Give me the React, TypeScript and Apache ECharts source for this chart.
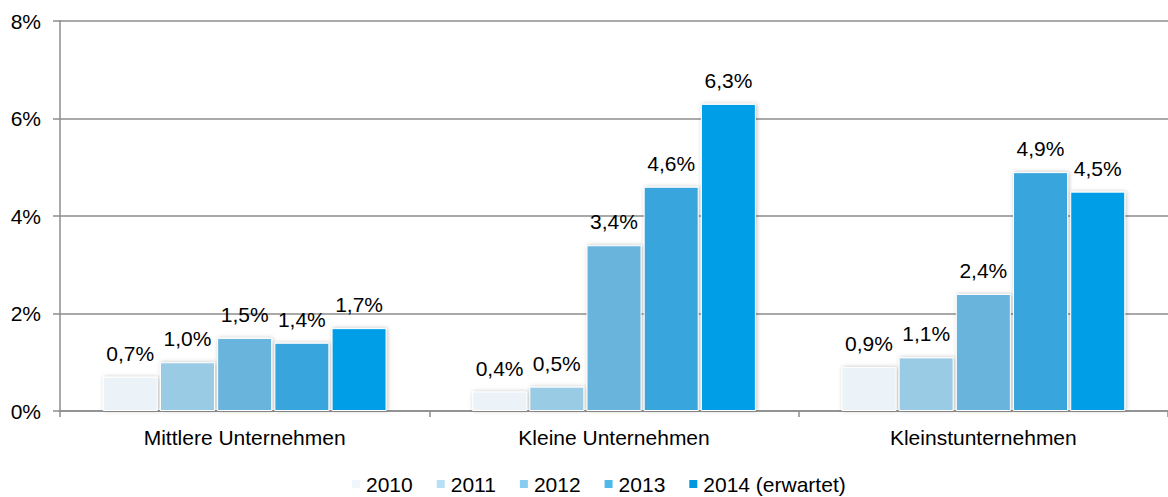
import React, { useEffect, useRef } from "react";
import * as echarts from "echarts";

const categories = ["Mittlere Unternehmen", "Kleine Unternehmen", "Kleinstunternehmen"];
const years = ["2010", "2011", "2012", "2013", "2014 (erwartet)"];
const v2010 = [0.7, 0.4, 0.9];
const v2011 = [1.0, 0.5, 1.1];
const v2012 = [1.5, 3.4, 2.4];
const v2013 = [1.4, 4.6, 4.9];
const v2014 = [1.7, 6.3, 4.5];
const seriesValues = [v2010, v2011, v2012, v2013, v2014];
const yTicks = [0, 2, 4, 6, 8];

const barColors = ["#EBF3F8", "#9ACBE4", "#67B4DC", "#39A5DD", "#029EE7"];
const legendColors = ["#F0F7FC", "#B5E0F5", "#86CDF0", "#50B9EC", "#0099E0"];

const FONT = "Liberation Sans, Arial, sans-serif";

export default function App() {
  const ref = useRef<HTMLDivElement>(null);
  useEffect(() => {
    if (!ref.current) return;
    const chart = echarts.init(ref.current, undefined, { renderer: "svg" });
    const axisColor = "#8c8c8c";
    chart.setOption({
      animation: false,
      backgroundColor: "#ffffff",
      textStyle: { fontFamily: FONT },
      grid: { left: 60, right: -5, top: 21, bottom: 86, containLabel: false },
      legend: {
        left: 350,
        top: 472,
        padding: 0,
        itemWidth: 10,
        itemHeight: 10,
        itemGap: 22,
        icon: "rect",
        textStyle: { fontFamily: FONT, fontSize: 21, color: "#000", lineHeight: 24 },
        data: years.map((y, i) => ({ name: y, itemStyle: { color: legendColors[i] } })),
      },
      xAxis: {
        type: "category",
        data: categories,
        axisLine: { show: true, lineStyle: { color: axisColor, width: 1.5 } },
        axisTick: { show: true, length: 6, alignWithLabel: false, lineStyle: { color: axisColor, width: 1.5 } },
        axisLabel: { fontFamily: FONT, fontSize: 21, color: "#000", margin: 16 },
      },
      yAxis: {
        type: "value",
        min: 0,
        max: 8,
        interval: 2,
        axisLine: { show: true, lineStyle: { color: axisColor, width: 1.5 } },
        axisTick: { show: true, length: 7, lineStyle: { color: axisColor, width: 1.5 } },
        splitLine: { show: true, lineStyle: { color: axisColor, width: 1.5 } },
        axisLabel: {
          fontFamily: FONT,
          fontSize: 21,
          color: "#000",
          margin: 19,
          formatter: (v: number) => (yTicks.includes(v) ? `${v}%` : ""),
        },
      },
      series: years.map((y, i) => ({
        name: y,
        type: "bar",
        data: seriesValues[i],
        barWidth: 55,
        barGap: "4%",
        itemStyle: {
          color: barColors[i],
          borderColor: "#ffffff",
          borderWidth: 1,
          shadowBlur: 4,
          shadowColor: "rgba(0,0,0,0.25)",
          shadowOffsetX: 1,
          shadowOffsetY: 0,
        },
        label: {
          show: true,
          position: "top",
          distance: 13,
          fontFamily: FONT,
          fontSize: 21,
          color: "#000",
          formatter: (p: any) => `${p.value.toFixed(1).replace(".", ",")}%`,
        },
      })),
    });
    return () => chart.dispose();
  }, []);
  return (
    <div
      ref={ref}
      style={{ position: "fixed", left: 0, top: 0, width: 1168, height: 497, background: "#fff" }}
    />
  );
}
